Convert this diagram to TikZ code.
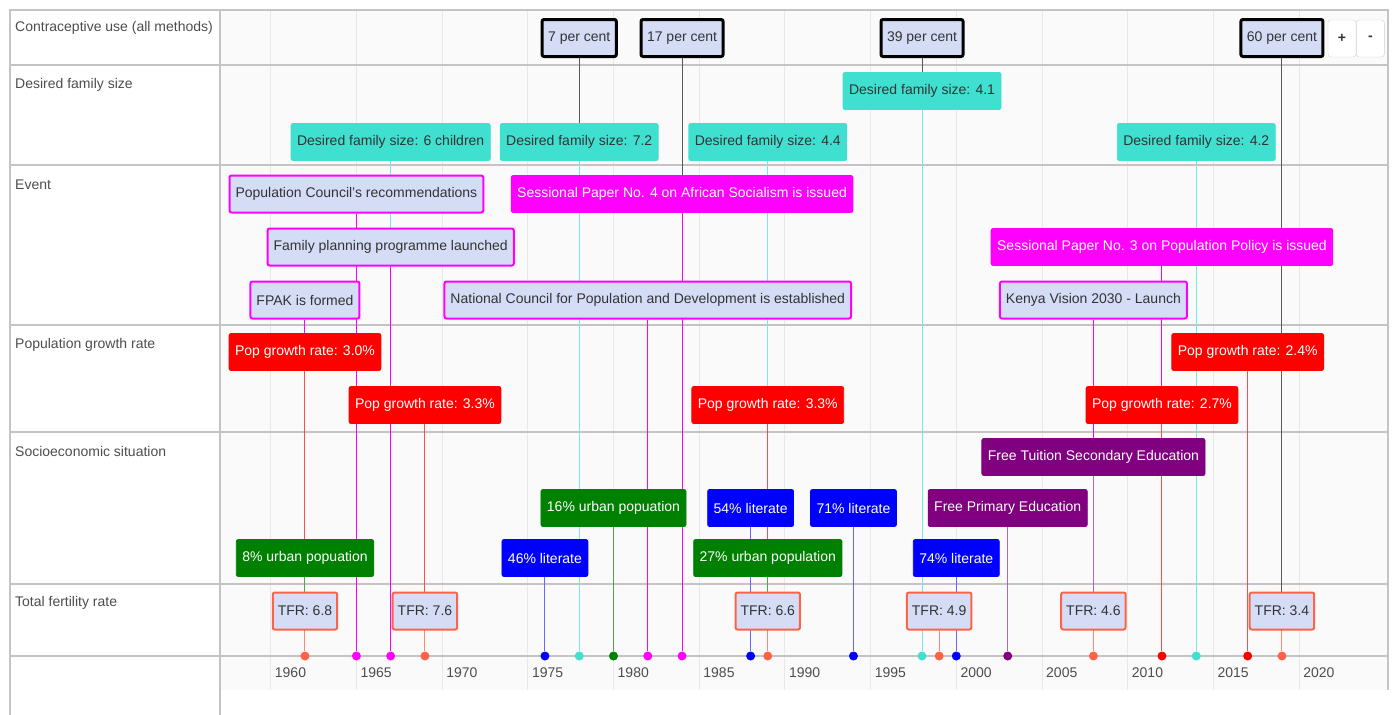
\documentclass[tikz,border=0pt]{standalone}
\usepackage{fontspec}
\setmainfont{Liberation Sans}
\usetikzlibrary{
    backgrounds,
    positioning,
}
\definecolor{VisBlue}{HTML}{D5DDF6}
\definecolor{Turq}{HTML}{40E0D0}
\definecolor{Tomato}{HTML}{FF6347}
\definecolor{Purp}{HTML}{800080}
\definecolor{Grn}{HTML}{008000}
\definecolor{Mag}{HTML}{FF00FF}
\definecolor{Red}{HTML}{FF0000}
\definecolor{Blu}{HTML}{0000FF}
\definecolor{LabelGray}{HTML}{4D4D4D}
\definecolor{RuleGray}{HTML}{C4C4C4}
\definecolor{GridGray}{HTML}{E8E8E8}
\pgfdeclarelayer{grid}
\pgfdeclarelayer{stems}
\pgfsetlayers{grid,stems,main}
\tikzstyle{item}=[rectangle,rounded corners=2pt,inner xsep=6pt,inner ysep=0pt,minimum height=37pt,font=\fontsize{14}{16}\selectfont,text=black!80]
\tikzstyle{cuse}=[item,draw=black,line width=3pt,fill=VisBlue]
\tikzstyle{dfs}=[item,draw=Turq,fill=Turq,line width=.8pt]
\tikzstyle{event}=[item,draw=Mag,line width=2pt,fill=VisBlue]
\tikzstyle{policy}=[item,draw=Mag,fill=Mag,line width=.8pt,text=white]
\tikzstyle{growth}=[item,draw=Red,fill=Red,line width=.8pt,text=white]
\tikzstyle{urban}=[item,draw=Grn,fill=Grn,line width=.8pt,text=white]
\tikzstyle{literacy}=[item,draw=Blu,fill=Blu,line width=.8pt,text=white]
\tikzstyle{school}=[item,draw=Purp,fill=Purp,line width=.8pt,text=white]
\tikzstyle{tfr}=[item,draw=Tomato,line width=2pt,fill=VisBlue,inner xsep=5pt]
\tikzstyle{rowlabel}=[anchor=west,inner sep=0pt,font=\fontsize{14}{16}\selectfont,text=LabelGray]
\tikzstyle{yearlabel}=[anchor=west,inner sep=0pt,font=\fontsize{14}{16}\selectfont,text=LabelGray]
\tikzstyle{stemdot}=[circle,inner sep=0pt,minimum size=9pt]
\tikzstyle{zoombtn}=[rectangle,draw=gray!35,fill=white,rounded corners=3pt,minimum width=28pt,minimum height=37pt,inner sep=0pt,font=\fontsize{14}{16}\selectfont\bfseries,text=black!80]
\newcommand{\Yr}[1]{270.7+17.14*(#1-1960)}
\newcommand{\Item}[6]{%
    \node[#1] (#2) at ({\Yr{#3}},#4) {#5};
    \begin{pgfonlayer}{stems}
        \draw[#6,line width=1pt] (#2) -- (d#3);
    \end{pgfonlayer}
}

\begin{document}
\begin{tikzpicture}[x=1pt,y=-1pt]
    \useasboundingbox (0,0) rectangle (1393,715);

    % Frame and grid
    \begin{pgfonlayer}{grid}
        \fill[black!2] (220,10) rectangle (1388,690);
        \foreach \y in {1960,1965,...,2020}
            \draw[GridGray,line width=1pt] ({\Yr{\y}},10) -- ({\Yr{\y}},690);
        \draw[RuleGray,line width=1.2pt] (10,715) -- (10,10) -- (1388,10) -- (1388,690);
        \draw[RuleGray,line width=1.2pt] (220,10) -- (220,715);
        \draw[RuleGray,line width=1.5pt] (10,65) -- (1388,65);
        \draw[RuleGray,line width=1.5pt] (10,165) -- (1388,165);
        \draw[RuleGray,line width=1.5pt] (10,325) -- (1388,325);
        \draw[RuleGray,line width=1.5pt] (10,432) -- (1388,432);
        \draw[RuleGray,line width=1.5pt] (10,584) -- (1388,584);
        \draw[RuleGray,line width=1.2pt] (10,656) -- (1388,656);
    \end{pgfonlayer}

    % Row labels
    \node[rowlabel] (lblcu) at (15,28) {Contraceptive use (all methods)};
    \node[rowlabel] (lbldfs) at (15,85) {Desired family size};
    \node[rowlabel] (lblev) at (15,185) {Event};
    \node[rowlabel] (lblpg) at (15,345) {Population growth rate};
    \node[rowlabel] (lblse) at (15,451) {Socioeconomic situation};
    \node[rowlabel] (lbltfr) at (15,603) {Total fertility rate};

    % Axis
    \foreach \y in {1960,1965,...,2020}
        \node[yearlabel] (yr\y) at ({\Yr{\y}+4},673) {\y};
    \foreach \y/\c in {1962/Tomato,1965/Mag,1967/Mag,1969/Tomato,1976/Blu,
        1978/Turq,1980/Grn,1982/Mag,1984/Mag,1988/Blu,1989/Tomato,
        1994/Blu,1998/Turq,1999/Tomato,2000/Blu,2003/Purp,2008/Tomato,
        2012/Red,2014/Turq,2017/Red,2019/Tomato}
        \node[stemdot,fill=\c] (d\y) at ({\Yr{\y}},656) {};

    % Contraceptive use
    \Item{cuse}{cu78}{1978}{38}{7 per cent}{black!65}
    \Item{cuse}{cu84}{1984}{38}{17 per cent}{black!65}
    \Item{cuse}{cu98}{1998}{38}{39 per cent}{black!65}
    \Item{cuse}{cu19}{2019}{38}{60 per cent}{black!65}

    % Desired family size
    \Item{dfs}{dfs67}{1967}{142}{Desired family size: 6 children}{Turq!70}
    \Item{dfs}{dfs78}{1978}{142}{Desired family size: 7.2}{Turq!70}
    \Item{dfs}{dfs89}{1989}{142}{Desired family size: 4.4}{Turq!70}
    \Item{dfs}{dfs98}{1998}{91}{Desired family size: 4.1}{Turq!70}
    \Item{dfs}{dfs14}{2014}{142}{Desired family size: 4.2}{Turq!70}

    % Events
    \Item{event}{ev65}{1965}{194}{Population Council's recommendations}{Mag}
    \Item{policy}{ev84}{1984}{194}{Sessional Paper No. 4 on African Socialism is issued}{Mag}
    \Item{event}{ev67}{1967}{247}{Family planning programme launched}{Mag}
    \Item{policy}{ev12}{2012}{247}{Sessional Paper No. 3 on Population Policy is issued}{Mag}
    \Item{event}{ev62}{1962}{300}{FPAK is formed}{Mag}
    \Item{event}{ev82}{1982}{300}{National Council for Population and Development is established}{Mag}
    \Item{event}{ev08}{2008}{300}{Kenya Vision 2030 - Launch}{Mag}

    % Population growth rate
    \Item{growth}{pg62}{1962}{352}{Pop growth rate: 3.0\%}{Red!70}
    \Item{growth}{pg69}{1969}{405}{Pop growth rate: 3.3\%}{Red!70}
    \Item{growth}{pg89}{1989}{405}{Pop growth rate: 3.3\%}{Red!70}
    \Item{growth}{pg12}{2012}{405}{Pop growth rate: 2.7\%}{Red!70}
    \Item{growth}{pg17}{2017}{352}{Pop growth rate: 2.4\%}{Red!70}

    % Socioeconomic situation
    \Item{urban}{ur62}{1962}{558}{8\% urban popuation}{Grn!70}
    \Item{literacy}{li76}{1976}{558}{46\% literate}{Blu!60}
    \Item{urban}{ur80}{1980}{508}{16\% urban popuation}{Grn!70}
    \Item{literacy}{li88}{1988}{508}{54\% literate}{Blu!60}
    \Item{urban}{ur89}{1989}{558}{27\% urban population}{Grn!70}
    \Item{literacy}{li94}{1994}{508}{71\% literate}{Blu!60}
    \Item{literacy}{li00}{2000}{558}{74\% literate}{Blu!60}
    \Item{school}{sc03}{2003}{508}{Free Primary Education}{Purp!60}
    \Item{school}{sc08}{2008}{457}{Free Tuition Secondary Education}{Purp!60}

    % Total fertility rate
    \Item{tfr}{tfr62}{1962}{611}{TFR: 6.8}{Tomato!75}
    \Item{tfr}{tfr69}{1969}{611}{TFR: 7.6}{Tomato!75}
    \Item{tfr}{tfr89}{1989}{611}{TFR: 6.6}{Tomato!75}
    \Item{tfr}{tfr99}{1999}{611}{TFR: 4.9}{Tomato!75}
    \Item{tfr}{tfr08}{2008}{611}{TFR: 4.6}{Tomato!75}
    \Item{tfr}{tfr19}{2019}{611}{TFR: 3.4}{Tomato!75}

    % Zoom buttons
    \node[zoombtn] (zin) at (1342,38.5) {+};
    \node[zoombtn,right=0pt of zin] (zout) {-};
\end{tikzpicture}
\end{document}
